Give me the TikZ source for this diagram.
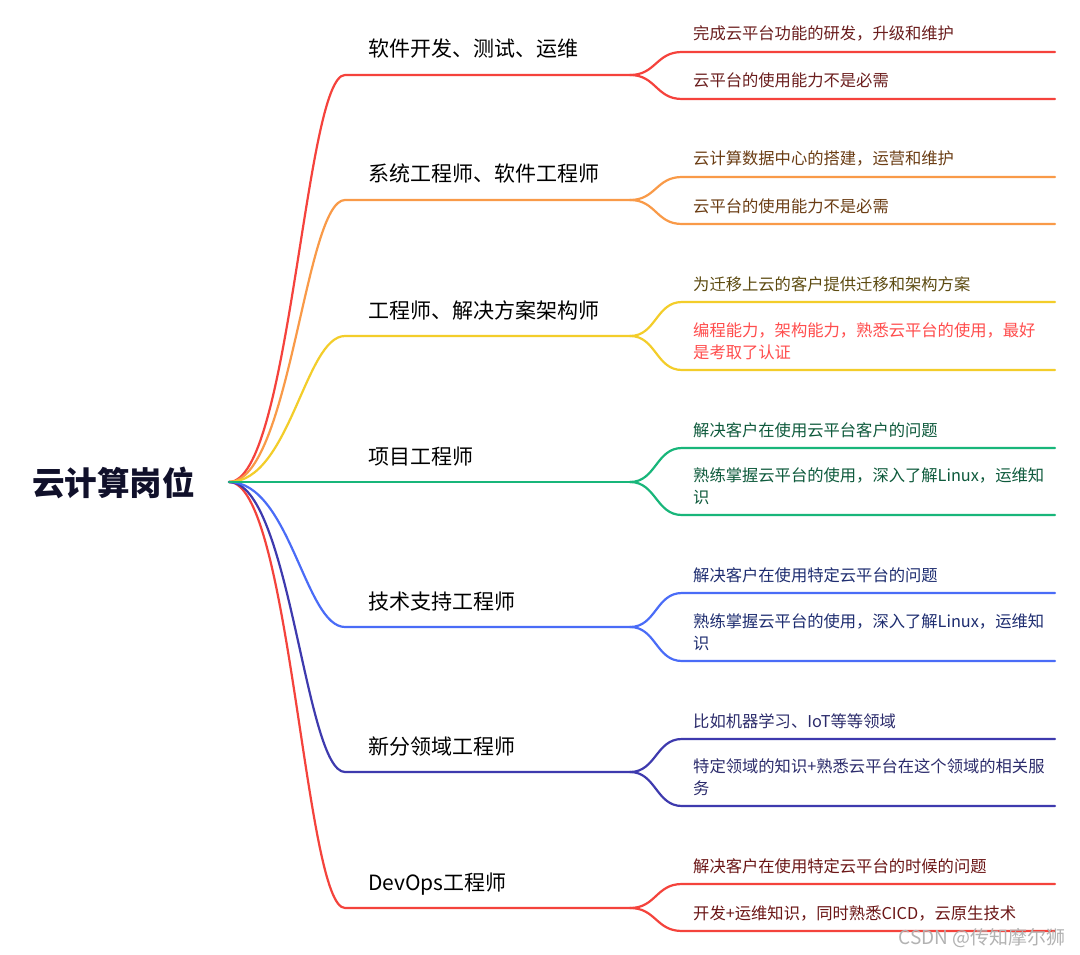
\documentclass[tikz,border=0pt]{standalone}
\usepackage{fontspec}
\setmainfont{Noto Sans CJK SC}
\definecolor{cA}{HTML}{F5423C}
\definecolor{cB}{HTML}{F99A48}
\definecolor{cC}{HTML}{F3CD2A}
\definecolor{cD}{HTML}{18B67A}
\definecolor{cE}{HTML}{4A6CF7}
\definecolor{cF}{HTML}{3E3AAE}
\definecolor{cG}{HTML}{F4433C}
\definecolor{tA}{HTML}{6B1E1E}
\definecolor{tB}{HTML}{6B3D14}
\definecolor{tC}{HTML}{5C4A10}
\definecolor{tCr}{HTML}{FF4D4D}
\definecolor{tD}{HTML}{0E5A3C}
\definecolor{tE}{HTML}{1E2D70}
\definecolor{tF}{HTML}{2C2C6C}
\definecolor{tG}{HTML}{6B1616}
\definecolor{rootc}{HTML}{10102A}
\newcommand\leaffont{\fontsize{16.3}{22}\selectfont}
\newcommand\branchfont{\fontsize{21}{26}\selectfont}
\tikzset{
  conn/.style={line width=2.2pt, line cap=round},
  leaftext/.style={anchor=base west, inner sep=0pt, font=\leaffont, align=left},
  branchtext/.style={anchor=base west, inner sep=0pt, font=\branchfont, text=black},
}
\begin{document}
\begin{tikzpicture}[x=1pt,y=-1pt]
\useasboundingbox[fill=white] (0,0) rectangle (1080,955);
% root
\node[anchor=base west, inner sep=0pt, font=\fontsize{32.6}{36}\selectfont\bfseries, text=rootc] (rootlbl) at (32,495) {云计算岗位};
\coordinate (root) at (229,482);

% branch coordinates
\coordinate (s1) at (345,75);  \coordinate (e1) at (630,75);
\coordinate (s2) at (345,200); \coordinate (e2) at (630,200);
\coordinate (s3) at (345,336); \coordinate (e3) at (630,336);
\coordinate (e4) at (630,482);
\coordinate (s5) at (345,627); \coordinate (e5) at (630,627);
\coordinate (s6) at (345,772); \coordinate (e6) at (630,772);
\coordinate (s7) at (345,908); \coordinate (e7) at (630,908);

% main branches
\draw[conn,cA] (root) .. controls +(61,0) and +(-40,0) .. (s1) -- (e1);
\draw[conn,cB] (root) .. controls +(61,0) and +(-40,0) .. (s2) -- (e2);
\draw[conn,cC] (root) .. controls +(61,0) and +(-40,0) .. (s3) -- (e3);
\draw[conn,cG] (root) .. controls +(61,0) and +(-40,0) .. (s7) -- (e7);
\draw[conn,cF] (root) .. controls +(61,0) and +(-40,0) .. (s6) -- (e6);
\draw[conn,cE] (root) .. controls +(61,0) and +(-40,0) .. (s5) -- (e5);
\draw[conn,cD] (root) -- (e4);

% branch labels
\node[branchtext] (n1) at (368,57)  {软件开发、测试、运维};
\node[branchtext] (n2) at (368,182) {系统工程师、软件工程师};
\node[branchtext] (n3) at (368,318) {工程师、解决方案架构师};
\node[branchtext] (n4) at (368,464) {项目工程师};
\node[branchtext] (n5) at (368,609) {技术支持工程师};
\node[branchtext] (n6) at (368,754) {新分领域工程师};
\node[branchtext] (n7) at (368,890) {DevOps工程师};

% leaf coordinates
\coordinate (a1) at (682,52);  \coordinate (a1e) at (1055,52);
\coordinate (b1) at (682,99);  \coordinate (b1e) at (1055,99);
\coordinate (a2) at (682,177); \coordinate (a2e) at (1055,177);
\coordinate (b2) at (682,224); \coordinate (b2e) at (1055,224);
\coordinate (a3) at (682,302); \coordinate (a3e) at (1055,302);
\coordinate (b3) at (682,370); \coordinate (b3e) at (1055,370);
\coordinate (a4) at (682,448); \coordinate (a4e) at (1055,448);
\coordinate (b4) at (682,515); \coordinate (b4e) at (1055,515);
\coordinate (a5) at (682,593); \coordinate (a5e) at (1055,593);
\coordinate (b5) at (682,661); \coordinate (b5e) at (1055,661);
\coordinate (a6) at (682,739); \coordinate (a6e) at (1055,739);
\coordinate (b6) at (682,806); \coordinate (b6e) at (1055,806);
\coordinate (a7) at (682,884); \coordinate (a7e) at (1055,884);
\coordinate (b7) at (682,931); \coordinate (b7e) at (1055,931);

% leaf connectors
\draw[conn,cA] (e1) .. controls +(26,0) and +(-26,0) .. (a1) -- (a1e);
\draw[conn,cA] (e1) .. controls +(26,0) and +(-26,0) .. (b1) -- (b1e);
\draw[conn,cB] (e2) .. controls +(26,0) and +(-26,0) .. (a2) -- (a2e);
\draw[conn,cB] (e2) .. controls +(26,0) and +(-26,0) .. (b2) -- (b2e);
\draw[conn,cC] (e3) .. controls +(26,0) and +(-26,0) .. (a3) -- (a3e);
\draw[conn,cC] (e3) .. controls +(26,0) and +(-26,0) .. (b3) -- (b3e);
\draw[conn,cD] (e4) .. controls +(26,0) and +(-26,0) .. (a4) -- (a4e);
\draw[conn,cD] (e4) .. controls +(26,0) and +(-26,0) .. (b4) -- (b4e);
\draw[conn,cE] (e5) .. controls +(26,0) and +(-26,0) .. (a5) -- (a5e);
\draw[conn,cE] (e5) .. controls +(26,0) and +(-26,0) .. (b5) -- (b5e);
\draw[conn,cF] (e6) .. controls +(26,0) and +(-26,0) .. (a6) -- (a6e);
\draw[conn,cF] (e6) .. controls +(26,0) and +(-26,0) .. (b6) -- (b6e);
\draw[conn,cG] (e7) .. controls +(26,0) and +(-26,0) .. (a7) -- (a7e);
\draw[conn,cG] (e7) .. controls +(26,0) and +(-26,0) .. (b7) -- (b7e);

% leaf texts
\node[leaftext,text=tA] (t1a) at (693,40)  {完成云平台功能的研发，升级和维护};
\node[leaftext,text=tA] (t1b) at (693,87)  {云平台的使用能力不是必需};
\node[leaftext,text=tB] (t2a) at (693,165) {云计算数据中心的搭建，运营和维护};
\node[leaftext,text=tB] (t2b) at (693,212) {云平台的使用能力不是必需};
\node[leaftext,text=tC] (t3a) at (693,290) {为迁移上云的客户提供迁移和架构方案};
\node[leaftext,text=tCr] (t3b) at (693,358) {编程能力，架构能力，熟悉云平台的使用，最好\\是考取了认证};
\node[leaftext,text=tD] (t4a) at (693,436) {解决客户在使用云平台客户的问题};
\node[leaftext,text=tD] (t4b) at (693,503) {熟练掌握云平台的使用，深入了解Linux，运维知\\识};
\node[leaftext,text=tE] (t5a) at (693,581) {解决客户在使用特定云平台的问题};
\node[leaftext,text=tE] (t5b) at (693,649) {熟练掌握云平台的使用，深入了解Linux，运维知\\识};
\node[leaftext,text=tF] (t6a) at (693,727) {比如机器学习、IoT等等领域};
\node[leaftext,text=tF] (t6b) at (693,794) {特定领域的知识+熟悉云平台在这个领域的相关服\\务};
\node[leaftext,text=tG] (t7a) at (693,872) {解决客户在使用特定云平台的时候的问题};
\node[leaftext,text=tG] (t7b) at (693,919) {开发+运维知识，同时熟悉CICD，云原生技术};

% watermark
\node[anchor=base east, inner sep=0pt, font=\fontsize{19}{22}\selectfont, text=black!30] (wm) at (1066,944) {CSDN @传知摩尔狮};
\end{tikzpicture}
\end{document}
